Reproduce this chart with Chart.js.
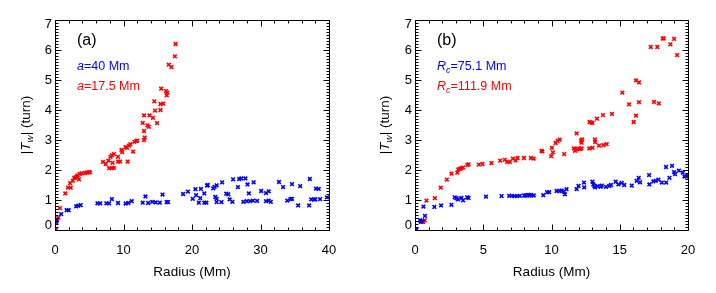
<!DOCTYPE html>
<html>
<head>
<meta charset="utf-8">
<script src="https://cdn.jsdelivr.net/npm/chart.js@4.4.1/dist/chart.umd.min.js"></script>
<style>
  html, body { margin: 0; padding: 0; background: #fff; }
  #wrap { position: relative; width: 716px; height: 293px; }
  canvas { position: absolute; top: 0; }
  #chartA { left: 0; }
  #chartB { left: 358px; }
</style>
</head>
<body>
<div id="wrap">
  <canvas id="chartA" width="358" height="293"></canvas>
  <canvas id="chartB" width="358" height="293"></canvas>
</div>
<script>
// panel (a): radius (Mm), |Tw| (turn)
const redA = [
  [0.15, 0.03], [0.2, 0.29], [0.3, 0.36], [0.5, 0.41], [0.7, 0.73], [1.5, 1.22],
  [1.9, 1.41], [2.3, 1.41], [2.2, 1.56], [2.6, 1.64], [2.8, 1.74], [3.0, 1.75],
  [3.2, 1.78], [3.5, 1.69], [3.3, 1.82], [3.6, 1.87], [3.9, 1.89], [4.4, 1.9],
  [4.7, 1.92], [5.0, 1.93], [5.1, 1.92], [7.0, 2.27], [7.4, 2.2], [7.8, 2.31],
  [8.1, 2.44], [8.3, 2.49], [8.6, 2.53], [7.9, 2.06], [8.3, 2.06], [8.6, 2.07],
  [9.2, 2.44], [8.4, 2.24], [9.2, 2.28], [9.5, 2.28], [9.7, 2.67], [9.8, 2.6],
  [10.3, 2.76], [10.5, 2.74], [10.6, 2.28], [10.8, 2.81], [11.0, 2.86], [11.4, 2.61],
  [11.6, 2.94], [11.9, 2.97], [12.0, 2.98], [13.0, 3.0], [13.1, 3.08], [13.0, 3.3],
  [12.8, 3.57], [13.5, 3.49], [13.7, 3.44], [13.0, 3.82], [13.8, 3.82], [14.3, 3.74],
  [14.9, 3.56], [14.5, 4.29], [14.6, 3.98], [15.4, 4.0], [15.4, 4.2], [15.8, 4.21],
  [15.5, 4.71], [16.2, 4.63], [16.4, 4.58], [16.3, 4.49], [16.6, 5.51], [17.0, 5.43],
  [17.5, 5.79], [17.6, 6.2]
];
const blueA = [
  [0.15, 0.26], [0.25, 0.33], [0.9, 0.53], [1.7, 0.66], [2.0, 0.66], [3.1, 0.79],
  [3.4, 0.81], [3.75, 0.83], [6.2, 0.89], [6.6, 0.89], [7.5, 0.89], [7.9, 0.89],
  [8.3, 1.03], [9.2, 0.9], [10.3, 0.88], [10.7, 0.9], [11.2, 0.96], [12.8, 0.91],
  [13.2, 1.12], [13.6, 0.9], [14.2, 0.94], [14.7, 0.92], [15.3, 0.91], [15.7, 1.18],
  [16.3, 0.93], [16.5, 0.93], [18.7, 1.2], [19.4, 1.28], [20.1, 1.04], [20.5, 1.36],
  [20.6, 1.16], [21.0, 0.91], [21.2, 1.06], [21.3, 1.37], [21.8, 1.22], [21.8, 0.91],
  [22.1, 0.91], [22.2, 1.48], [22.3, 1.5], [23.1, 1.39], [23.3, 1.44], [23.6, 1.49],
  [23.4, 1.1], [23.6, 1.04], [23.6, 0.93], [24.3, 0.93], [24.4, 1.59], [25.0, 1.21],
  [25.3, 1.19], [25.5, 1.02], [25.9, 0.94], [26.0, 1.69], [26.7, 1.43], [26.9, 1.7],
  [27.2, 1.72], [27.8, 1.72], [27.5, 0.94], [28.0, 0.96], [28.5, 0.96], [28.9, 0.98],
  [29.5, 0.97], [28.1, 1.52], [28.3, 1.22], [29.0, 1.59], [30.1, 1.3], [30.8, 1.23],
  [31.2, 1.29], [30.8, 0.96], [31.2, 0.98], [31.5, 0.94], [32.7, 1.6], [33.3, 1.43],
  [33.9, 0.98], [34.4, 1.03], [34.6, 1.04], [34.6, 1.53], [35.5, 0.82], [35.8, 1.46],
  [37.2, 1.7], [37.1, 0.82], [37.4, 1.02], [37.8, 1.02], [38.0, 1.02], [38.1, 1.38],
  [38.5, 1.37], [38.7, 1.03], [39.7, 1.09]
];

// panel (b)
const redB = [
  [0.1, 0.03], [0.47, 0.27], [0.59, 0.27], [0.71, 0.32], [0.84, 0.98], [1.45, 1.06],
  [1.89, 1.41], [2.33, 1.68], [2.67, 1.88], [3.1, 1.91], [3.18, 2.02], [3.28, 2.04],
  [3.4, 2.06], [3.52, 2.08], [3.84, 2.17], [3.92, 2.19], [4.67, 2.18], [4.94, 2.2],
  [5.6, 2.23], [6.24, 2.31], [6.58, 2.34], [6.75, 2.27], [6.95, 2.27], [7.17, 2.38],
  [7.37, 2.32], [7.51, 2.4], [7.98, 2.4], [8.49, 2.4], [8.69, 2.38], [9.27, 2.64],
  [9.33, 2.62], [9.98, 2.46], [10.1, 2.59], [10.03, 2.74], [10.3, 2.9], [10.45, 2.97],
  [10.6, 3.01], [10.93, 2.53], [11.84, 3.22], [11.64, 2.72], [11.72, 2.64], [11.84, 2.69],
  [11.96, 2.72], [12.08, 2.7], [12.2, 2.72], [12.16, 2.98], [12.2, 2.91], [12.25, 3.02],
  [12.77, 2.72], [13.0, 2.74], [13.18, 3.02], [13.2, 2.93], [13.48, 2.81], [13.8, 2.83],
  [14.04, 2.86], [12.79, 3.6], [12.94, 3.58], [13.0, 3.57], [13.33, 3.71], [13.77, 3.83],
  [14.43, 3.87], [15.19, 4.58], [15.68, 4.19], [16.02, 3.6], [16.19, 3.81], [16.19, 4.99],
  [16.41, 4.92], [16.41, 4.26], [17.51, 4.27], [17.86, 4.22], [17.27, 6.1], [17.75, 6.1],
  [18.15, 6.38], [18.22, 6.39], [18.71, 6.19], [18.98, 6.37], [19.2, 5.83]
];
const blueB = [
  [0.1, 0.02], [0.37, 0.33], [0.42, 0.28], [0.54, 0.3], [0.73, 0.47], [0.62, 0.78],
  [1.42, 0.77], [1.91, 0.82], [2.67, 0.84], [2.91, 1.09], [3.04, 1.06], [3.15, 1.02],
  [3.4, 1.07], [3.52, 0.99], [3.82, 1.09], [3.92, 1.07], [5.2, 1.11], [6.34, 1.13],
  [6.9, 1.14], [7.09, 1.14], [7.29, 1.13], [7.48, 1.13], [7.68, 1.14], [8.0, 1.15],
  [8.1, 1.15], [8.3, 1.17], [8.4, 1.15], [8.5, 1.17], [8.7, 1.15], [9.4, 1.16],
  [9.68, 1.26], [9.83, 1.26], [10.37, 1.3], [10.6, 1.3], [10.74, 1.31], [10.91, 1.28],
  [11.1, 1.36], [10.98, 1.19], [11.84, 1.36], [11.98, 1.47], [12.38, 1.58], [12.4, 1.42],
  [13.0, 1.61], [13.06, 1.52], [13.13, 1.47], [13.2, 1.42], [13.38, 1.46], [13.6, 1.44],
  [13.68, 1.48], [13.99, 1.44], [14.23, 1.47], [14.36, 1.5], [14.7, 1.61], [14.9, 1.52],
  [15.14, 1.57], [15.33, 1.5], [15.88, 1.48], [16.24, 1.64], [16.39, 1.74], [16.49, 1.59],
  [17.15, 1.83], [17.17, 1.52], [17.46, 1.62], [17.64, 1.64], [17.83, 1.68], [18.08, 1.58],
  [18.4, 1.58], [18.39, 2.1], [18.64, 1.74], [18.83, 2.14], [18.98, 1.93], [19.05, 1.86],
  [19.33, 1.98], [19.62, 1.91], [19.74, 1.78], [19.91, 1.78], [19.98, 1.81]
];

const yTicks = [0, 1, 2, 3, 4, 5, 6, 7];
const xTitle = 'Radius (Mm)';
const BLUE = 'rgb(0,0,255)';
const RED = 'rgb(255,0,0)';
const FONT = "'Liberation Sans', Arial, Helvetica, sans-serif";

Chart.defaults.font.family = FONT;
Chart.defaults.color = '#000';

// draw a run of text pieces (italic / subscript) starting at x, centred on y
function drawRich(ctx, pieces, x, y, size) {
  let cx = x;
  pieces.forEach(p => {
    const s = p.sub ? size * 0.72 : size;
    ctx.font = (p.italic ? 'italic ' : '') + s + 'px ' + FONT;
    ctx.fillStyle = p.color || '#000';
    ctx.textBaseline = 'middle';
    ctx.textAlign = 'left';
    ctx.fillText(p.text, cx, p.sub ? y + size * 0.3 : y);
    cx += ctx.measureText(p.text).width;
  });
  return cx - x;
}

// IDL style box with inward major/minor ticks on all four sides, plus annotations
const idlFrame = {
  id: 'idlFrame',
  afterDatasetsDraw(chart, args, opts) {
    const { ctx, chartArea: a, scales: { x, y } } = chart;
    ctx.save();
    ctx.strokeStyle = '#000';
    ctx.lineWidth = 1;
    ctx.beginPath();
    const L = Math.round(a.left) + 0.5, R = Math.round(a.right) + 0.5;
    const T = Math.round(a.top) + 0.5, B = Math.round(a.bottom) + 0.5;
    ctx.rect(L, T, R - L, B - T);
    const nx = Math.round((x.max - x.min) / opts.xMinor);
    for (let i = 0; i <= nx; i++) {
      const v = x.min + i * opts.xMinor;
      const px = Math.round(x.getPixelForValue(v)) + 0.5;
      const major = Math.abs(v / opts.xMajor - Math.round(v / opts.xMajor)) < 1e-6;
      const len = major ? 6 : 3;
      ctx.moveTo(px, B); ctx.lineTo(px, B - len);
      ctx.moveTo(px, T); ctx.lineTo(px, T + len);
    }
    const ny = Math.round((y.max - y.min) / opts.yMinor);
    for (let i = 0; i <= ny; i++) {
      const v = y.min + i * opts.yMinor;
      const py = Math.round(y.getPixelForValue(v)) + 0.5;
      const major = Math.abs(v / opts.yMajor - Math.round(v / opts.yMajor)) < 1e-6;
      const len = major ? 6 : 3;
      ctx.moveTo(L, py); ctx.lineTo(L + len, py);
      ctx.moveTo(R, py); ctx.lineTo(R - len, py);
    }
    ctx.stroke();

    // y axis title |Tw| (turn)
    const yt = [
      { text: '|' }, { text: 'T', italic: true }, { text: 'w', italic: true, sub: true },
      { text: '| (turn)' }
    ];
    ctx.save();
    let w = 0;
    yt.forEach(p => {
      ctx.font = (p.italic ? 'italic ' : '') + (p.sub ? 13.5 * 0.72 : 13.5) + 'px ' + FONT;
      w += ctx.measureText(p.text).width;
    });
    ctx.translate(opts.yTitleX, (a.top + a.bottom) / 2);
    ctx.rotate(-Math.PI / 2);
    drawRich(ctx, yt, -w / 2, 0, 13.5);
    ctx.restore();

    // panel tag and legend text
    ctx.font = '16px ' + FONT;
    ctx.fillStyle = '#000';
    ctx.textBaseline = 'middle';
    ctx.textAlign = 'left';
    ctx.fillText(opts.tag, opts.textX, 41);
    drawRich(ctx, opts.line1, opts.textX, 67, 12.5);
    drawRich(ctx, opts.line2, opts.textX, 87, 12.5);
    ctx.restore();
  }
};

// keep the end labels inside the box, as IDL does
function yLabel(v) {
  if (v === yTicks[0]) return [String(v), ''];
  if (v === yTicks[yTicks.length - 1]) return ['', String(v)];
  return String(v);
}

function makeChart(id, blue, red, xMax, xStep, xMinor, yAxisWidth, padRight, frame) {
  const marker = {
    pointStyle: 'crossRot',
    pointRadius: 2.6,
    borderWidth: 1.6,
  };
  return new Chart(document.getElementById(id), {
    type: 'scatter',
    data: {
      datasets: [
        Object.assign({
          data: blue.map(p => ({ x: p[0], y: p[1] })),
          borderColor: BLUE,
          backgroundColor: BLUE,
        }, marker),
        Object.assign({
          data: red.map(p => ({ x: p[0], y: p[1] })),
          borderColor: RED,
          backgroundColor: RED,
        }, marker),
      ],
    },
    options: {
      responsive: false,
      animation: false,
      events: [],
      layout: { padding: { left: 0, right: padRight, top: 20, bottom: 0 } },
      plugins: {
        legend: { display: false },
        tooltip: { enabled: false },
        idlFrame: Object.assign({ xMinor: xMinor, xMajor: xStep, yMinor: 0.1, yMajor: 1 }, frame),
      },
      scales: {
        x: {
          type: 'linear',
          min: 0,
          max: xMax,
          grid: { display: false, drawTicks: false },
          border: { display: false },
          ticks: { stepSize: xStep, padding: 13, font: { size: 13 }, maxRotation: 0 },
          title: { display: true, text: xTitle, font: { size: 13.5 }, padding: { top: 0, bottom: 13 } },
          afterFit(scale) { scale.height = 63; },
        },
        y: {
          type: 'linear',
          min: yTicks[0],
          max: yTicks[yTicks.length - 1],
          grid: { display: false, drawTicks: false },
          border: { display: false },
          ticks: { stepSize: 1, padding: 3, font: { size: 13, lineHeight: 0.7 }, callback: yLabel },
          afterFit(scale) { scale.width = yAxisWidth; },
        },
      },
    },
    plugins: [idlFrame],
  });
}

makeChart('chartA', blueA, redA, 40, 10, 2, 55, 29, {
  yTitleX: 26,
  textX: 77,
  tag: '(a)',
  line1: [{ text: 'a', italic: true, color: BLUE }, { text: '=40 Mm', color: BLUE }],
  line2: [{ text: 'a', italic: true, color: RED }, { text: '=17.5 Mm', color: RED }],
});

makeChart('chartB', blueB, redB, 20, 5, 1, 57, 28, {
  yTitleX: 27,
  textX: 79,
  tag: '(b)',
  line1: [{ text: 'R', italic: true, color: BLUE }, { text: 'c', italic: true, sub: true, color: BLUE }, { text: '=75.1 Mm', color: BLUE }],
  line2: [{ text: 'R', italic: true, color: RED }, { text: 'c', italic: true, sub: true, color: RED }, { text: '=111.9 Mm', color: RED }],
});
</script>
</body>
</html>
